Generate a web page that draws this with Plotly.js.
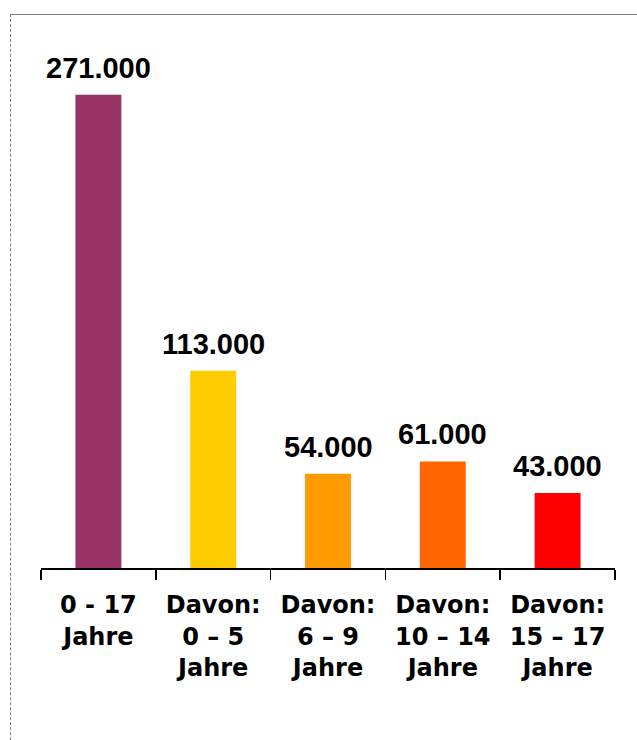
<!DOCTYPE html>
<html>
<head>
<meta charset="utf-8">
<script src="https://cdn.plot.ly/plotly-3.0.1.min.js"></script>
<style>
  html, body { margin: 0; padding: 0; background: #ffffff; }
  #wrap { position: relative; width: 637px; height: 740px; overflow: hidden; }
  #chart { position: absolute; left: 0; top: 0; width: 637px; height: 740px; }
  #frame { position: absolute; left: 10px; top: 14px; width: 700px; height: 800px;
           border-top: 1px solid #808080; border-left: 1px dashed #808080; pointer-events: none; }
</style>
</head>
<body>
<div id="wrap">
  <div id="chart"></div>
  <div id="frame"></div>
</div>
<script>
const categories = [
  "0 - 17<br>Jahre",
  "Davon:<br>0 – 5<br>Jahre",
  "Davon:<br>6 – 9<br>Jahre",
  "Davon:<br>10 – 14<br>Jahre",
  "Davon:<br>15 – 17<br>Jahre"
];
const values = [271000, 113000, 54000, 61000, 43000];
const valueLabels = ["271.000", "113.000", "54.000", "61.000", "43.000"];
const colors = ["#993366", "#FFCC00", "#FF9900", "#FF6600", "#FF0000"];

const trace = {
  type: "bar",
  x: categories,
  y: values,
  marker: { color: colors, line: { width: 0 } },
  hoverinfo: "none"
};

const annotations = categories.map((c, i) => ({
  x: c, y: values[i], xref: "x", yref: "y",
  text: valueLabels[i], showarrow: false,
  yanchor: "bottom", xanchor: "center", yshift: 9,
  font: { family: "Liberation Sans, Arial, sans-serif", size: 29, color: "#000000", weight: "bold" }
}));

const layout = {
  width: 637, height: 740,
  margin: { l: 41, r: 22, t: 44, b: 172, pad: 0 },
  paper_bgcolor: "#ffffff", plot_bgcolor: "#ffffff",
  showlegend: false,
  bargap: 0.6,
  xaxis: {
    type: "category",
    showline: true, linecolor: "#000000", linewidth: 1.5,
    ticks: "outside", tickson: "boundaries", ticklen: 10, tickwidth: 1.5, tickcolor: "#000000",
    ticklabelstandoff: 15,
    showgrid: false, zeroline: false, fixedrange: true,
    tickfont: { family: "DejaVu Sans, sans-serif", size: 24, color: "#000000", weight: "bold" }
  },
  yaxis: {
    range: [0, 300000], visible: false, showgrid: false, zeroline: false, fixedrange: true
  },
  annotations: annotations
};

Plotly.newPlot("chart", [trace], layout, { displayModeBar: false, staticPlot: true });
</script>
</body>
</html>
